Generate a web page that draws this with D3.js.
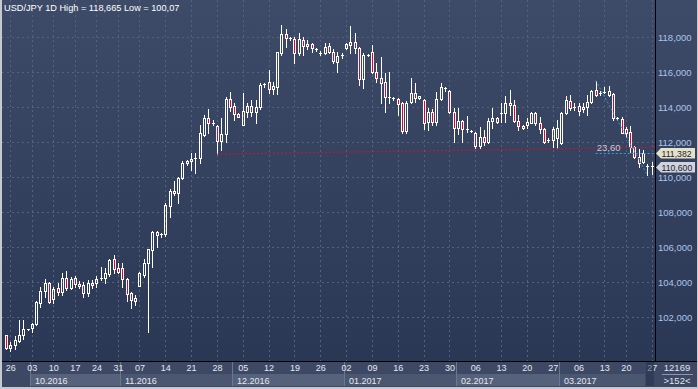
<!DOCTYPE html>
<html>
<head>
<meta charset="utf-8">
<script src="https://cdn.jsdelivr.net/npm/d3@7"></script>
<style>
body { margin: 0; background: #c5c9d1; }
svg { display: block; }
text { font-family: "Liberation Sans", Arial, sans-serif; }
</style>
</head>
<body>
<svg id="chart"></svg>
<script>
// daily bars, USD/JPY
var open  = [100.97,100.25,100.38,100.65,100.97,101.30,101.39,101.58,102.82,103.47,
	103.96,103.05,103.64,103.45,104.21,103.68,104.21,103.90,103.83,103.35,
	103.96,103.92,104.15,104.21,104.44,105.30,104.80,104.78,104.15,103.35,
	102.93,103.80,104.40,105.07,105.83,106.88,106.74,106.74,108.36,109.20,
	109.07,109.92,110.78,110.91,111.04,111.07,112.40,113.35,113.10,112.90,
	112.08,112.46,114.44,114.06,113.60,113.00,113.74,114.06,113.74,113.98,
	115.30,115.45,115.01,115.16,117.07,118.17,117.92,117.88,117.10,117.83,
	117.60,117.58,117.30,117.07,117.07,117.49,117.16,116.60,116.97,117.35,
	117.54,117.73,117.35,115.58,117.00,117.12,116.02,115.64,115.45,114.55,
	114.50,114.44,114.25,112.63,114.30,114.78,114.50,114.40,113.16,113.73,
	113.16,114.44,115.10,114.91,113.70,112.82,113.20,112.72,112.65,112.53,
	111.77,112.30,112.02,113.20,113.35,113.60,113.68,114.25,114.11,113.20,
	112.90,112.97,113.11,113.64,113.07,112.72,112.10,112.11,112.20,111.95,
	113.64,114.36,113.98,114.06,113.87,114.02,114.30,114.97,114.82,114.82,
	114.68,114.74,113.35,113.30,112.72,112.59,111.70,111.12,110.87,110.60,
	110.65];
var high  = [101.00,100.60,100.93,101.83,101.83,101.33,101.64,102.92,103.73,104.15,
	104.02,103.73,103.92,104.50,104.63,104.30,104.34,104.08,104.02,104.11,
	104.11,104.34,104.88,104.78,105.30,105.54,105.07,105.07,104.21,103.45,
	103.26,104.60,105.30,105.90,106.93,106.93,106.80,108.50,109.30,109.79,
	110.02,110.91,110.97,111.35,111.35,112.97,113.54,113.87,113.26,112.97,
	113.35,114.59,114.84,114.21,113.64,114.82,114.21,114.40,114.40,115.35,
	115.35,116.10,115.45,117.16,118.665,118.44,118.02,118.02,118.21,118.02,
	117.83,117.64,117.35,117.20,117.64,117.64,117.30,117.16,117.10,117.64,
	118.63,118.21,117.41,117.07,117.05,117.54,116.53,116.88,115.92,116.02,
	114.55,114.50,114.31,114.34,115.68,115.35,114.65,114.44,113.92,113.87,
	114.88,115.35,115.12,114.97,113.92,113.92,113.26,113.49,112.70,112.59,
	112.88,112.69,113.35,113.92,113.45,114.20,114.63,114.97,114.40,113.54,
	112.95,113.35,113.73,113.73,113.45,112.78,112.21,112.88,113.26,113.70,
	114.63,114.68,114.20,114.21,114.21,114.68,115.00,115.51,114.90,115.16,
	115.20,114.78,113.45,113.45,112.88,112.91,111.77,111.58,111.54,110.74,
	110.87];
var low   = [100.17,100.07,100.19,100.60,100.72,101.28,101.16,101.54,102.59,103.16,
	102.82,102.78,103.26,103.26,103.54,103.58,103.73,103.64,103.16,103.20,
	103.64,103.70,104.11,103.96,104.34,104.50,104.50,103.73,102.92,102.50,
	102.69,103.79,104.27,101.16,104.88,105.98,106.60,106.63,107.73,108.97,
	108.54,109.89,110.69,110.40,110.25,110.82,112.34,112.50,113.00,111.31,
	111.54,112.02,113.79,113.26,113.45,112.97,113.45,113.49,113.10,113.90,
	115.16,114.82,114.74,114.74,116.97,117.45,117.83,116.53,116.97,116.97,
	117.30,117.16,117.22,116.99,117.03,117.07,116.50,116.02,116.78,117.30,
	117.07,117.07,115.26,115.07,116.90,115.92,115.45,114.25,113.73,114.21,
	114.40,113.54,112.53,112.53,114.25,114.30,114.48,112.72,112.69,113.00,
	113.00,114.40,114.93,113.64,112.02,112.44,112.02,112.59,112.58,111.64,
	111.64,111.83,111.92,112.78,113.07,113.16,113.16,113.54,113.16,112.69,
	112.75,112.78,113.07,112.97,112.50,111.92,112.02,111.73,111.64,111.90,
	113.60,113.83,113.83,113.54,113.70,113.54,114.25,114.63,114.70,114.78,
	114.63,113.26,113.26,112.50,112.30,111.45,111.07,110.59,110.78,110.11,
	110.17];
var close = [100.25,100.38,100.69,101.00,101.30,101.32,101.60,102.86,103.49,103.96,
	102.88,103.58,103.45,104.21,103.68,104.15,103.87,103.80,103.39,103.92,
	103.81,104.15,104.25,104.50,105.26,104.72,104.59,104.15,103.30,102.97,
	103.07,104.50,105.10,105.87,106.88,106.69,106.72,108.40,109.20,109.07,
	109.96,110.78,110.93,111.04,111.06,112.50,113.35,113.07,113.05,112.08,
	112.46,114.44,114.02,113.58,113.45,113.77,114.06,113.74,113.98,115.26,
	115.26,115.01,115.20,117.12,118.17,117.92,117.95,117.10,117.86,117.50,
	117.49,117.35,117.27,117.05,117.45,117.16,116.63,116.91,117.00,117.60,
	117.73,117.35,115.58,117.00,116.98,116.02,115.64,115.39,114.55,114.56,
	114.48,114.15,112.63,114.25,114.82,114.50,114.63,113.10,113.73,113.16,
	114.44,115.12,115.06,113.70,112.82,113.20,112.72,112.70,112.63,111.77,
	112.30,112.02,113.22,113.35,113.16,113.68,114.25,114.11,113.20,112.90,
	112.80,113.16,113.64,113.07,112.72,112.02,112.08,112.72,112.78,113.64,
	114.40,113.92,114.00,113.79,114.02,114.30,114.93,114.68,114.80,114.87,
	114.93,113.35,113.32,112.53,112.53,111.73,111.12,110.82,111.39,110.63,
	110.60];

var priceTicks = [102, 104, 106, 108, 110, 112, 114, 116, 118];
var weekLabels = ["26","03","10","17","24","31","07","14","21","28","05","12","19","26",
	"02","09","16","23","30","06","13","20","27","06","13","20","27"];
var weekBars = [1,6,11,16,21,26,31,37,43,49,55,61,67,73,79,85,91,97,103,109,115,121,127,133,139,144,150];
var monthLabels = ["10.2016","11.2016","12.2016","01.2017","02.2017","03.2017"];
var monthBars = [6,27,53,79,105,129];

var trendBars = [49, 151];
var trendValues = [111.31, 111.70];
var fibBars = [137, 149];
var fibValues = [115.51, 110.11];
var fibLevel = 111.382;
var fibText = "23,60";
var tagValues = [111.382, 110.600];
var tagColors = ["#e6e2c9", "#cfd3dc"];

var titleText = "USD/JPY 1D High = 118,665 Low = 100,07";
var barCount = "12169";
var visibleBars = ">152<";

var svg = d3.select("#chart").attr("width", 698).attr("height", 389);

var plotLeft = 2, plotRight = 655, plotBottom = 361, stripBottom = 387;

var x = d3.scaleLinear()
	.domain([0, 150])
	.range([6, 651.7]);

var y = d3.scaleLinear()
	.domain([102, 118])
	.range([317, 37]);

function fmt(d) {
	return d.toFixed(3).replace(".", ",");
}

var defs = svg.append("defs");
var bg = defs.append("linearGradient")
	.attr("id", "bg")
	.attr("gradientUnits", "userSpaceOnUse")
	.attr("x1", 0).attr("y1", 0)
	.attr("x2", 0).attr("y2", plotBottom);
bg.append("stop").attr("offset", "0%").attr("stop-color", "#3e4b68");
bg.append("stop").attr("offset", "100%").attr("stop-color", "#2b3855");

defs.append("clipPath")
	.attr("id", "plotClip")
	.append("rect")
		.attr("x", plotLeft)
		.attr("y", 0)
		.attr("width", plotRight - plotLeft)
		.attr("height", plotBottom);

// background
svg.append("rect")
	.attr("x", plotLeft)
	.attr("y", 0)
	.attr("width", 697 - plotLeft)
	.attr("height", plotBottom)
	.attr("fill", "url(#bg)");

// bottom strip
svg.append("rect")
	.attr("x", plotLeft)
	.attr("y", plotBottom)
	.attr("width", 697 - plotLeft)
	.attr("height", stripBottom - plotBottom)
	.attr("fill", "#3c4864");

var monthG = svg.append("g").attr("id", "months");

monthG.selectAll("rect")
	.data(monthBars)
	.enter()
	.append("rect")
		.attr("x", function(d){ return Math.round(x(d)) - 2; })
		.attr("y", 374)
		.attr("width", function(d, i){
			var end = i < monthBars.length - 1 ? Math.round(x(monthBars[i+1])) - 2 : 645;
			return end - (Math.round(x(d)) - 2);
		})
		.attr("height", 12)
		.attr("fill", function(d, i){ return i % 2 == 0 ? "#56627b" : "#4b5770"; });

monthG.selectAll("line")
	.data(monthBars)
	.enter()
	.append("line")
		.attr("x1", function(d){ return Math.round(x(d)) - 1.5; })
		.attr("x2", function(d){ return Math.round(x(d)) - 1.5; })
		.attr("y1", 362)
		.attr("y2", 386)
		.attr("stroke", "#6c7790");

monthG.selectAll("text")
	.data(monthLabels)
	.enter()
	.append("text")
		.attr("x", function(d, i){ return Math.round(x(monthBars[i])) + 3; })
		.attr("y", 383.5)
		.attr("font-size", 9)
		.attr("fill", "#e4e8f0")
		.text(function(d){ return d; });

// grid
var grid = svg.append("g")
	.attr("clip-path", "url(#plotClip)")
	.attr("stroke", "#56627d")
	.attr("stroke-dasharray", "2,3");

grid.selectAll(".hgrid")
	.data(priceTicks)
	.enter()
	.append("line")
		.attr("class", "hgrid")
		.attr("x1", plotLeft)
		.attr("x2", plotRight)
		.attr("y1", function(d){ return Math.round(y(d)) + 0.5; })
		.attr("y2", function(d){ return Math.round(y(d)) + 0.5; });

grid.selectAll(".vgrid")
	.data(weekBars)
	.enter()
	.append("line")
		.attr("class", "vgrid")
		.attr("x1", function(d){ return Math.round(x(d)) + 0.5; })
		.attr("x2", function(d){ return Math.round(x(d)) + 0.5; })
		.attr("y1", 0)
		.attr("y2", plotBottom);

// candles
var bars = svg.append("g")
	.attr("id", "bars")
	.attr("clip-path", "url(#plotClip)");

var candle = bars.selectAll(".candle")
	.data(d3.range(open.length))
	.enter()
	.append("g")
		.attr("class", "candle");

candle.each(function(i){
	var g = d3.select(this);
	var px = Math.round(x(i));
	var top = Math.round(y(Math.max(open[i], close[i])));
	var bot = Math.round(y(Math.min(open[i], close[i])));
	var hi = Math.round(y(high[i]));
	var lo = Math.round(y(low[i]));

	if (bot - top < 2) {
		g.append("line")
			.attr("x1", px + 0.5).attr("x2", px + 0.5)
			.attr("y1", hi).attr("y2", lo + 1)
			.attr("stroke", "#ffffff");
		g.append("line")
			.attr("x1", px - 1).attr("x2", px + 2)
			.attr("y1", top + 0.5).attr("y2", top + 0.5)
			.attr("stroke", "#ffffff");
		return;
	}

	g.append("line")
		.attr("x1", px + 0.5).attr("x2", px + 0.5)
		.attr("y1", hi).attr("y2", top)
		.attr("stroke", "#ffffff");
	g.append("line")
		.attr("x1", px + 0.5).attr("x2", px + 0.5)
		.attr("y1", bot + 1).attr("y2", lo + 1)
		.attr("stroke", "#ffffff");
	g.append("rect")
		.attr("x", px - 0.5)
		.attr("y", top + 0.5)
		.attr("width", 2)
		.attr("height", bot - top)
		.attr("fill", close[i] < open[i] ? "#e3002c" : "none")
		.attr("stroke", "#ffffff");
});

// trend line and fibo
var notes = svg.append("g").attr("clip-path", "url(#plotClip)");

notes.append("line")
	.attr("x1", x(trendBars[0]))
	.attr("y1", y(trendValues[0]))
	.attr("x2", x(trendBars[1]))
	.attr("y2", y(trendValues[1]))
	.attr("stroke", "#d3102e")
	.attr("stroke-dasharray", "2,2");

notes.append("line")
	.attr("x1", x(fibBars[0]))
	.attr("y1", y(fibValues[0]))
	.attr("x2", x(fibBars[1]))
	.attr("y2", y(fibValues[1]))
	.attr("stroke", "#2f9fd8")
	.attr("stroke-dasharray", "2,2");

notes.append("line")
	.attr("x1", x(fibBars[0]))
	.attr("x2", plotRight)
	.attr("y1", Math.round(y(fibLevel)) + 0.5)
	.attr("y2", Math.round(y(fibLevel)) + 0.5)
	.attr("stroke", "#2f9fd8")
	.attr("stroke-dasharray", "2,2");

notes.append("text")
	.attr("x", x(fibBars[0]) + 1)
	.attr("y", y(fibLevel) - 2)
	.attr("font-size", 9.5)
	.attr("fill", "#c3cbda")
	.text(fibText);

// frame lines
svg.append("line")
	.attr("x1", plotRight + 0.5).attr("x2", plotRight + 0.5)
	.attr("y1", 0).attr("y2", plotBottom)
	.attr("stroke", "#000000");

svg.append("line")
	.attr("x1", plotLeft).attr("x2", 697)
	.attr("y1", plotBottom + 0.5).attr("y2", plotBottom + 0.5)
	.attr("stroke", "#000000");

// right axis
var rightAxis = svg.append("g")
	.attr("transform", "translate(" + plotRight + ",0)")
	.call(d3.axisRight(y).tickValues(priceTicks).tickSize(0).tickPadding(3).tickFormat(fmt));

rightAxis.select(".domain").remove();
rightAxis.selectAll("text")
	.attr("font-size", 9.5)
	.attr("font-family", "'Liberation Sans', Arial, sans-serif")
	.attr("fill", "#abc5ea");

// price tags
var tags = svg.selectAll(".tag")
	.data(tagValues)
	.enter()
	.append("g")
		.attr("class", "tag")
		.attr("transform", function(d){ return "translate(0," + Math.round(y(d)) + ")"; });

tags.append("path")
	.attr("d", "M656,0.5L661,-5L695,-5L695,5.5L661,5.5Z")
	.attr("fill", function(d, i){ return tagColors[i]; });

tags.append("text")
	.attr("x", 661.5)
	.attr("y", 3.8)
	.attr("font-size", 8.7)
	.attr("fill", "#1c2232")
	.text(function(d){ return fmt(d); });

// bottom axis
var bottomAxis = svg.append("g")
	.attr("transform", "translate(0," + plotBottom + ")")
	.call(d3.axisBottom(x).tickValues(weekBars).tickSize(0).tickPadding(4)
		.tickFormat(function(d, i){ return weekLabels[i]; }));

bottomAxis.select(".domain").remove();
bottomAxis.selectAll("text")
	.attr("font-size", 9)
	.attr("font-family", "'Liberation Sans', Arial, sans-serif")
	.attr("fill", "#e4e8f0");

// scroll thumb at the end of the strip
svg.append("rect")
	.attr("x", 646)
	.attr("y", 362)
	.attr("width", 8)
	.attr("height", 24)
	.attr("fill", "#243049")
	.attr("fill-opacity", 0.5);

// corner box
svg.append("text")
	.attr("x", 677)
	.attr("y", 371)
	.attr("text-anchor", "middle")
	.attr("font-size", 9.5)
	.attr("fill", "#dfe4ee")
	.text(barCount);

svg.append("line")
	.attr("x1", 662).attr("x2", 693)
	.attr("y1", 374.5).attr("y2", 374.5)
	.attr("stroke", "#8e98ac");

svg.append("text")
	.attr("x", 677)
	.attr("y", 384)
	.attr("text-anchor", "middle")
	.attr("font-size", 9.5)
	.attr("fill", "#dfe4ee")
	.text(visibleBars);

// title
svg.append("text")
	.attr("x", 4)
	.attr("y", 11)
	.attr("font-size", 9.2)
	.attr("fill", "#ffffff")
	.text(titleText);
</script>
</body>
</html>
